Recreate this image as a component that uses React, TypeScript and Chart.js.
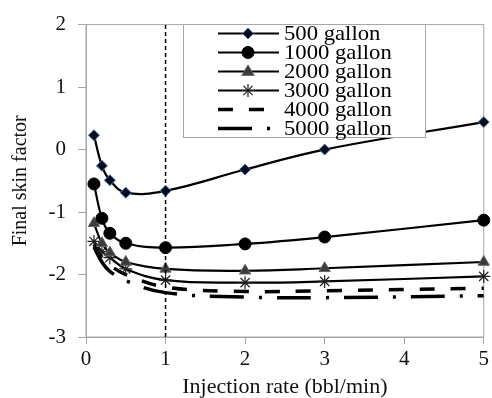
import React, { useEffect, useRef } from "react";
import { Chart, registerables } from "chart.js";

Chart.register(...registerables);

const rates = [0.1, 0.2, 0.3, 0.5, 1, 2, 3, 5];
const seriesLabels = ["500 gallon", "1000 gallon", "2000 gallon", "3000 gallon", "4000 gallon", "5000 gallon"];
const s500 = [0.23, -0.26, -0.49, -0.69, -0.66, -0.32, 0.0, 0.44];
const s1000 = [-0.55, -1.1, -1.34, -1.5, -1.57, -1.51, -1.4, -1.13];
const s2000 = [-1.18, -1.5, -1.65, -1.8, -1.91, -1.94, -1.9, -1.8];
const s3000 = [-1.47, -1.63, -1.73, -1.91, -2.09, -2.13, -2.11, -2.03];
const s4000 = [-1.52, -1.72, -1.85, -2.0, -2.2, -2.27, -2.26, -2.22];
const s5000 = [-1.56, -1.8, -1.95, -2.1, -2.29, -2.36, -2.37, -2.34];
const refLineX = [1, 1];
const refLineY = [-3, 2];

const FONT = "'Liberation Serif', 'Times New Roman', serif";

function pts(ys: number[]) {
  return rates.map((x, i) => ({ x, y: ys[i] }));
}

function drawMarker(ctx: CanvasRenderingContext2D, ds: any, x: number, y: number) {
  const style = ds.pointStyle;
  const r = ds.pointRadius;
  if (!style || !r) return;
  ctx.save();
  ctx.fillStyle = ds.pointBackgroundColor;
  ctx.strokeStyle = ds.pointBorderColor;
  ctx.lineWidth = ds.pointBorderWidth;
  ctx.setLineDash([]);
  ctx.beginPath();
  if (style === "circle") {
    ctx.arc(x, y, r, 0, Math.PI * 2);
    ctx.fill();
    ctx.stroke();
  } else if (style === "rectRot") {
    ctx.moveTo(x, y - r);
    ctx.lineTo(x + r, y);
    ctx.lineTo(x, y + r);
    ctx.lineTo(x - r, y);
    ctx.closePath();
    ctx.fill();
    ctx.stroke();
  } else if (style === "triangle") {
    ctx.moveTo(x, y - r);
    ctx.lineTo(x + r * 0.95, y + r * 0.6);
    ctx.lineTo(x - r * 0.95, y + r * 0.6);
    ctx.closePath();
    ctx.fill();
    ctx.stroke();
  } else if (style === "star") {
    for (let k = 0; k < 4; k++) {
      const a = (k * Math.PI) / 4;
      ctx.moveTo(x - r * Math.cos(a), y - r * Math.sin(a));
      ctx.lineTo(x + r * Math.cos(a), y + r * Math.sin(a));
    }
    ctx.stroke();
  }
  ctx.restore();
}

const framePlugin = {
  id: "frameAndLegend",
  beforeDatasetsDraw(chart: any) {
    const { ctx, chartArea } = chart;
    ctx.save();
    ctx.strokeStyle = "#a6a6a6";
    ctx.lineWidth = 1;
    ctx.strokeRect(chartArea.left, chartArea.top, chartArea.right - chartArea.left, chartArea.bottom - chartArea.top);
    ctx.restore();
  },
  afterDatasetsDraw(chart: any) {
    const { ctx } = chart;
    const bx = 183, by = 24, bw = 242, bh = 113;
    ctx.save();
    ctx.fillStyle = "#ffffff";
    ctx.fillRect(bx, by, bw, bh);
    ctx.strokeStyle = "#a6a6a6";
    ctx.lineWidth = 1;
    ctx.strokeRect(bx + 0.5, by + 0.5, bw, bh);
    const items = chart.data.datasets.filter((d: any) => d.label);
    items.forEach((ds: any, i: number) => {
      const y = 33.5 + i * 19;
      ctx.save();
      ctx.strokeStyle = ds.borderColor;
      ctx.lineWidth = ds.borderWidth;
      ctx.setLineDash(ds.borderDash || []);
      ctx.beginPath();
      ctx.moveTo(218, y);
      ctx.lineTo(279, y);
      ctx.stroke();
      ctx.restore();
      drawMarker(ctx, ds, 248, y);
      ctx.save();
      ctx.fillStyle = "#000";
      ctx.font = `21px ${FONT}`;
      ctx.textBaseline = "middle";
      ctx.textAlign = "left";
      ctx.translate(284, y + 1);
      ctx.scale(1.08, 1);
      ctx.fillText(ds.label, 0, 0);
      ctx.restore();
    });
    ctx.restore();
  },
};

export default function App() {
  const ref = useRef<HTMLCanvasElement>(null);
  useEffect(() => {
    if (!ref.current) return;
    const common = { borderColor: "#000", tension: 0.4, clip: false as any };
    const chart = new Chart(ref.current, {
      type: "line",
      data: {
        datasets: [
          {
            label: "",
            data: refLineX.map((x, i) => ({ x, y: refLineY[i] })),
            borderColor: "#000",
            borderWidth: 1.5,
            borderDash: [4, 3],
            pointRadius: 0,
            tension: 0,
          },
          {
            ...common,
            label: seriesLabels[0],
            data: pts(s500),
            borderWidth: 2.2,
            pointStyle: "rectRot",
            pointRadius: 5.5,
            pointBackgroundColor: "#0a0a1e",
            pointBorderColor: "#3d7ab8",
            pointBorderWidth: 1,
          },
          {
            ...common,
            label: seriesLabels[1],
            data: pts(s1000),
            borderWidth: 2.2,
            pointStyle: "circle",
            pointRadius: 6,
            pointBackgroundColor: "#000",
            pointBorderColor: "#000",
            pointBorderWidth: 1,
          },
          {
            ...common,
            label: seriesLabels[2],
            data: pts(s2000),
            borderWidth: 2.2,
            pointStyle: "triangle",
            pointRadius: 6.5,
            pointBackgroundColor: "#3a3a3a",
            pointBorderColor: "#666",
            pointBorderWidth: 1,
          },
          {
            ...common,
            label: seriesLabels[3],
            data: pts(s3000),
            borderWidth: 2.2,
            pointStyle: "star",
            pointRadius: 6.5,
            pointBackgroundColor: "#000",
            pointBorderColor: "#222",
            pointBorderWidth: 1.2,
          },
          {
            ...common,
            label: seriesLabels[4],
            data: pts(s4000),
            borderWidth: 3.5,
            borderDash: [15, 16],
            pointRadius: 0,
          },
          {
            ...common,
            label: seriesLabels[5],
            data: pts(s5000),
            borderWidth: 3.5,
            borderDash: [34, 15, 3, 15],
            pointRadius: 0,
          },
        ] as any,
      },
      options: {
        responsive: false,
        animation: false,
        devicePixelRatio: 1,
        layout: { padding: { top: 18, right: 5, left: 0, bottom: 0 } },
        plugins: { legend: { display: false }, tooltip: { enabled: false } },
        elements: { point: { hoverRadius: 5 } },
        scales: {
          x: {
            type: "linear",
            min: 0,
            max: 5,
            ticks: { stepSize: 1, color: "#111", font: { family: FONT, size: 21 }, padding: 3, maxRotation: 0 },
            grid: { drawOnChartArea: false, color: "#a6a6a6", tickLength: 7 },
            border: { color: "#a6a6a6" },
            title: {
              display: true,
              text: "Injection rate (bbl/min)",
              color: "#111",
              font: { family: FONT, size: 22, lineHeight: 1 },
              padding: { top: 0, bottom: 0 },
            },
            afterFit: (s: any) => {
              s.height = 61;
            },
          },
          y: {
            min: -3,
            max: 2,
            ticks: { stepSize: 1, color: "#111", font: { family: FONT, size: 21 }, padding: 12 },
            grid: { drawOnChartArea: false, color: "#a6a6a6", tickLength: 8 },
            border: { color: "#a6a6a6" },
            title: {
              display: true,
              text: "Final skin factor",
              color: "#111",
              font: { family: FONT, size: 20, lineHeight: 1.2 },
              padding: { top: 9, bottom: 0 },
            },
            afterFit: (s: any) => {
              s.width = 86;
            },
          },
        },
      },
      plugins: [framePlugin],
    });
    return () => chart.destroy();
  }, []);
  return (
    <div style={{ position: "absolute", left: 0, top: 0, width: 492, height: 398, background: "#fff" }}>
      <canvas ref={ref} width={492} height={398} style={{ width: 492, height: 398 }} />
    </div>
  );
}
